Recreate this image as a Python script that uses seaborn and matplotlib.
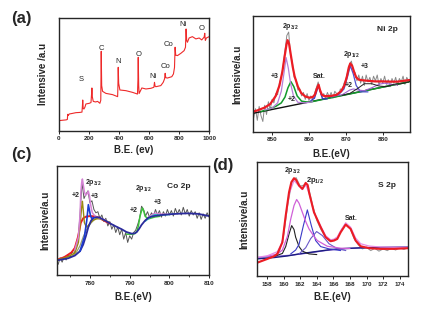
import numpy as np
import matplotlib
matplotlib.use("Agg")
import matplotlib.pyplot as plt
import seaborn as sns

sns.set_style("ticks")
plt.rcParams["font.family"] = ["Liberation Sans", "DejaVu Sans"]
plt.rcParams["font.weight"] = "bold"
plt.rcParams["mathtext.fontset"] = "custom"
plt.rcParams["mathtext.rm"] = "Liberation Sans:bold"
plt.rcParams["mathtext.bf"] = "Liberation Sans:bold"

# ---- (a) survey spectrum ----
survey_ev = [0, 20, 50, 58, 60, 64, 70, 90, 115, 140, 155, 158, 160, 163, 168, 175, 181, 204,
             215, 219, 221, 224, 230, 245, 259, 274, 280, 283, 286, 292, 314, 358, 392, 394,
             396, 399, 407, 447, 491, 524, 527, 529, 532, 535, 553, 580, 613, 633, 637, 641,
             646, 679, 695, 704, 708, 712, 723, 752, 763, 770, 774, 778, 790, 812, 834, 843,
             847, 851, 856, 867, 889, 912, 934, 951, 967, 971, 975, 982, 1000]
survey_int = [8.9, 9.2, 9.6, 10, 14.5, 13.5, 14.8, 15.3, 16, 16.2, 16.5, 22, 27.2, 20, 19.2,
              21, 23.7, 24.3, 25, 33, 37.9, 30, 26, 25.5, 26, 24.3, 27, 70.4, 40, 34.9, 33.1,
              32, 30.2, 40, 56.2, 42, 36.1, 35.5, 34, 32.5, 45, 65.1, 40, 33, 37.9, 37, 37.6,
              38.5, 42.9, 39.5, 39, 40, 42.9, 46, 50.9, 47, 46.7, 47.9, 50.3, 56, 74, 67, 66.6,
              68.6, 71, 74, 90.2, 80, 78.4, 82.2, 83.4, 81.4, 82.2, 80.5, 83, 86.4, 80, 82.2, 83.4]
survey_tags = ["S", "C", "N", "O", "Ni", "Co", "Co", "Ni", "O"]
survey_tag_ev = [153, 285, 394, 533, 626, 710, 728, 825, 949]
survey_tag_int = [45.3, 73, 61.5, 67.5, 48, 57, 76, 93.8, 90.8]

# ---- (b) Ni 2p ----
ni_raw = [12, 20, 10, 22, 14, 9, 23, 15, 26, 19, 28, 25, 33, 32, 42, 47, 57, 70, 83, 86,
          66, 60, 47, 45, 36, 37, 31, 34, 28, 33, 27, 31, 28, 33, 38, 43, 35, 30, 33, 29,
          34, 30, 34, 29, 35, 33, 31, 37, 36, 42, 45, 52, 58, 61, 53, 51, 44, 49, 42, 48,
          40, 49, 43, 47, 41, 48, 44, 49, 40, 46, 42, 48, 41, 45, 39, 46, 42, 47, 40, 46,
          43, 48, 41, 47, 44]
ni_fit_ev = [844.8, 846, 848, 849.5, 851, 852, 852.8, 853.4, 853.9, 854.2, 854.6, 855.1, 855.6,
             856.1, 857, 857.9, 859, 860.1, 861, 861.6, 862.1, 862.6, 863, 863.5, 864.2, 866,
             867.5, 868.7, 869.6, 870.3, 870.8, 871.2, 871.7, 872.3, 872.8, 873.5, 874.5, 876,
             878, 880, 882, 884, 887.3]
ni_fit = [17.5, 18.5, 21, 24, 31, 40, 52, 65, 75, 79, 76, 66, 56, 48, 39, 33.5, 30.5, 29.5,
          30, 32, 37, 40.7, 36, 32, 30.8, 31, 32, 35, 40, 48, 55.6, 59, 57, 51, 47, 45, 44.5,
          44, 43.5, 43.5, 43.3, 43.3, 44.7]
ni_base_ev = [844.8, 887.3]
ni_base = [16, 43.3]
ni3_ev = [848, 850, 851.5, 852.5, 853.2, 853.8, 854.4, 855, 855.8, 857, 859, 861]
ni3 = [19, 20.5, 25, 35, 50, 64, 55, 42, 31, 25.5, 25, 26]
ni2_ev = [847, 849, 851, 852.5, 853.5, 854.3, 855.1, 855.9, 856.8, 858, 860, 863, 870, 880, 887]
ni2 = [17.5, 19.5, 22, 25, 30, 38, 43.3, 39, 31, 26.5, 25.5, 27.5, 32, 38.6, 43]
ni_sat_ev = [860.5, 861.5, 862.1, 862.6, 863.1, 863.7, 865]
ni_sat = [27, 29, 35, 39.8, 34, 28.5, 28.5]
ni_p12_ev = [866, 868, 869.5, 870.4, 871.2, 872, 872.8, 874, 876]
ni_p12 = [30, 32, 37, 47, 57, 50, 40, 34.5, 34.5]
ni_p12b_ev = [866, 869, 871, 872, 873.5, 875, 877, 879, 880.5, 882, 884]
ni_p12b = [30.5, 32, 36, 37, 36, 35.5, 38, 41, 42, 41, 40.5]
ni_hump_ev = [869, 871, 873, 875, 877, 879, 881, 883, 885, 887]
ni_hump = [31.5, 33, 37, 41.5, 41.5, 39.5, 39, 41, 41.5, 43]

# ---- (c) Co 2p ----
co_raw = [10, 16, 12, 17, 14, 19, 16, 22, 19, 26, 33, 55, 85, 70, 74, 77, 66, 68, 60, 57,
          58, 52, 55, 49, 52, 45, 49, 42, 46, 39, 44, 37, 42, 33, 39, 30, 36, 33, 39, 41,
          46, 52, 63, 60, 54, 58, 53, 57, 54, 60, 55, 59, 53, 58, 54, 60, 55, 59, 54, 61,
          56, 60, 55, 62, 56, 60, 54, 59, 55, 58, 52, 57, 51, 56, 52, 57, 53]
co_navy_ev = [771.8, 774.5, 776.2, 777.5, 778.3, 779, 779.6, 780.3, 781, 781.7, 782.5, 783.8,
              785, 786.3, 788, 789.2, 790.5, 791.3, 791.8, 792.4, 793, 793.9, 794.7, 795.5,
              796.4, 798.1, 800.6, 803.1, 804.8, 807.3, 810]
co_navy = [13.7, 15.5, 18, 22, 28, 36, 44, 50, 52.5, 53, 52.5, 50, 47.5, 45, 42, 39.5, 38,
           38.3, 39.5, 42.5, 46, 50, 52.5, 53.5, 54.2, 55, 55.8, 56.3, 56.5, 56, 54]
co_blue_ev = [777.5, 778.6, 779.2, 779.6, 780.1, 780.4, 781]
co_blue = [22, 35, 50, 64.4, 55, 52, 52.5]
co_red_ev = [771.8, 773.5, 774.5, 775.4, 776.2, 777, 777.7, 778.3, 779, 780, 781, 782, 783,
             784, 785]
co_red = [14.3, 16.5, 18.8, 21, 25, 35, 48, 52, 53.5, 54, 53.8, 53, 51, 49, 47.3]
co_olive_ev = [771.8, 774.5, 776.2, 777.1, 777.5, 777.9, 778.1, 778.3, 778.6, 779.1, 779.6,
               780.4, 781, 781.7, 782.5, 783.8]
co_olive = [14, 17, 20.4, 30, 45, 62, 67.5, 60, 48, 44, 45.5, 49, 50.5, 51.5, 51.5, 50]
co_khaki_ev = [775.4, 776.6, 777.5, 778.3, 779.2, 780.1, 781, 781.7, 782.5, 783.8, 785]
co_khaki = [17, 21, 27, 35, 42, 47, 50.5, 52, 52, 50.5, 48]
co_pink_ev = [776.2, 777.1, 777.5, 777.7, 777.9, 778.1, 778.3, 778.6, 778.9, 779.1, 779.4,
              779.6, 779.9, 780.1, 780.4, 780.6, 781.3, 782.5, 783.8]
co_pink = [23.4, 35, 55, 75, 84, 87.8, 83, 76, 73, 73.6, 75, 76.6, 72, 66, 60, 57, 53.8, 52,
           50.5]
co_pink2_ev = [794.7, 795.5, 796.4, 797.6, 799.7]
co_pink2 = [53, 55, 56.8, 56, 55.5]
co_green_ev = [789.2, 790.5, 791.3, 791.8, 792.2, 792.6, 793.2, 793.5, 793.9, 794.7, 795.5,
               796.4, 797.6]
co_green = [37.5, 37.5, 38, 40, 45, 53.8, 61.4, 59, 53.8, 51.4, 52.3, 53.2, 53.8]
co_cyan_ev = [793.9, 794.7, 795.5, 796.4, 797.6, 799.7, 801]
co_cyan = [49.2, 51.5, 53.8, 55.3, 54.8, 55.3, 55.8]

# ---- (d) S 2p ----
s_raw = [12.5, 14, 15.5, 16.5, 18.5, 22, 36, 63, 83, 86.5, 79, 80, 78, 62, 49, 41, 35, 31,
         31.5, 34, 41, 46.5, 42.5, 33, 27.5, 24, 25.5, 22.5, 24.5, 22, 24, 22.5, 24.8, 23, 25,
         23.5, 25]
s_red_ev = [156.75, 158.04, 158.84, 159.24, 159.85, 160.25, 160.65, 160.93, 161.25, 161.5,
            161.86, 162.26, 162.66, 162.9, 163.06, 163.66, 164.47, 165.07, 165.67, 166.07,
            166.47, 166.88, 167.48, 168.08, 168.68, 169.29, 170.29, 171.69, 173.3, 175]
s_red = [11.7, 15.2, 17.5, 19.6, 29.8, 53.2, 73.7, 82.5, 86, 84.5, 79.5, 76.6, 81.9, 80, 73.7,
         56.1, 43, 34.2, 30.7, 31.3, 32.7, 38.6, 45.3, 41.5, 31.3, 26.3, 24.6, 24, 24, 24.6]
s_pink_ev = [156.75, 158.04, 159.24, 159.85, 160.25, 160.65, 161.25, 161.86, 162.26, 162.66,
             163.06, 163.66, 164.47, 165.07, 165.67, 166.07, 166.47, 166.88, 167.48, 168.08,
             168.68, 169.29, 170.29, 171.69, 173.3, 175]
s_pink = [16.4, 18, 21.5, 30, 52, 72, 84, 79, 76, 80.5, 73, 56, 44, 35.5, 32, 32.5, 34.5, 40,
          46.8, 43, 33.5, 28.5, 26.5, 25.6, 25.4, 25.4]
s_mag_ev = [158, 159.24, 159.85, 160.45, 160.85, 161.25, 161.57, 161.86, 162.26, 162.66,
            163.06, 163.66, 164.06, 165.27, 166.88, 168]
s_mag = [17.5, 19.5, 23, 35, 50, 62, 67.3, 64, 56, 48, 41.5, 35, 31.3, 26.3, 24.6, 24.3]
s_blk_ev = [158.84, 159.85, 160.25, 160.65, 160.97, 161.25, 161.45, 161.86, 162.26, 163.06, 164]
s_blk = [17.3, 20, 26, 37, 44.4, 41, 34.2, 26, 22, 19.6, 19]
s_blue_ev = [160.85, 161.45, 161.86, 162.38, 162.86, 163.34, 163.86, 164.47, 165.47, 166.88]
s_blue = [19.6, 23, 28, 44.4, 58.2, 44.4, 31.3, 26, 24, 22.5]
s_slate_ev = [161.86, 162.66, 163.26, 163.98, 164.67, 165.47, 166.47, 167.5]
s_slate = [19.6, 25, 33, 39.2, 35.7, 28.5, 24.2, 22.5]
s_navy_ev = [156.75, 158.84, 160.45, 161.86, 163.86, 165.67, 167.5, 169.29, 172, 175]
s_navy = [15.2, 16.4, 17.8, 19.6, 21.6, 23.4, 24.4, 24.9, 25.2, 25.4]
s_purp_ev = [156.75, 159, 161, 163, 165, 167, 170, 175]
s_purp = [16.4, 17.5, 18.5, 20.4, 22.5, 24, 25.2, 25.6]


def line(ax, x, y, color, lw=0.8):
    sns.lineplot(x=x, y=y, ax=ax, color=color, linewidth=lw, estimator=None, sort=False)


def style(ax, xlim, ticks, xlabel, xlab_y, ylab_x, minor=None):
    ax.set_xlim(*xlim)
    ax.set_ylim(0, 100)
    ax.set_xticks(ticks)
    if minor is not None:
        ax.set_xticks(minor, minor=True)
    ax.set_yticks([])
    ax.tick_params(axis="x", which="major", direction="out", length=2.5, width=0.7,
                   labelsize=4.5, pad=1.5)
    ax.tick_params(axis="x", which="minor", direction="out", length=1.5, width=0.6)
    for s in ax.spines.values():
        s.set_visible(True)
        s.set_linewidth(1.0)
    ax.set_xlabel(xlabel, fontsize=7, fontweight="bold")
    ax.xaxis.set_label_coords(0.5, xlab_y)
    ax.set_ylabel("Intensive/a.u", fontsize=7, fontweight="bold")
    ax.yaxis.set_label_coords(ylab_x, 0.5)


fig = plt.figure(figsize=(4.25, 3.09), dpi=100)
ax_a = fig.add_axes([0.138, 0.577, 0.354, 0.365])
ax_b = fig.add_axes([0.595, 0.573, 0.369, 0.376])
ax_c = fig.add_axes([0.135, 0.109, 0.357, 0.355])
ax_d = fig.add_axes([0.604, 0.106, 0.356, 0.369])

# (a)
line(ax_a, survey_ev, survey_int, "#ee2a2a", 0.8)
for t, xv, yv in zip(survey_tags, survey_tag_ev, survey_tag_int):
    ax_a.text(xv, yv, t, fontsize=5.5, fontweight="normal", ha="center", va="center")
style(ax_a, (0, 1000), [0, 200, 400, 600, 800, 1000], "B.E. (ev)", -0.13, -0.07)
ax_a.set_ylabel("Intensive /a.u", fontsize=7, fontweight="bold")

# (b)
nx = np.linspace(845, 887, len(ni_raw))
line(ax_b, nx, ni_raw, "#8a8a8a", 0.7)
line(ax_b, ni_base_ev, ni_base, "#111111", 1.0)
line(ax_b, ni2_ev, ni2, "#129a2c", 1.1)
line(ax_b, ni3_ev, ni3, "#b67fd8", 0.9)
line(ax_b, ni_sat_ev, ni_sat, "#3434c8", 0.9)
line(ax_b, ni_p12_ev, ni_p12, "#5050d0", 0.9)
line(ax_b, ni_p12b_ev, ni_p12b, "#a060d0", 0.8)
line(ax_b, ni_hump_ev, ni_hump, "#222222", 0.7)
line(ax_b, ni_fit_ev, ni_fit, "#ec1c24", 1.6)
b_tags = ["2p$_{3/2}$", "+3", "+2", "Sat.", "2p$_{1/2}$", "+2", "+3"]
b_tag_ev = [855.1, 850.6, 855.3, 862.8, 871.4, 870.8, 875.1]
b_tag_int = [90.5, 47.6, 27.5, 47.6, 66.5, 40.4, 56.2]
for t, xv, yv in zip(b_tags, b_tag_ev, b_tag_int):
    ax_b.text(xv, yv, t, fontsize=5, fontweight="bold", ha="center", va="center")
ax_b.text(881.3, 88, "Ni 2p", fontsize=6, fontweight="bold", ha="center", va="center")
style(ax_b, (844.8, 887.3), [850, 860, 870, 880], "B.E.(eV)", -0.145, -0.065)

# (c)
cx = np.linspace(772, 810, len(co_raw))
line(ax_c, cx, co_raw, "#555555", 0.7)
line(ax_c, co_khaki_ev, co_khaki, "#9aa070", 0.9)
line(ax_c, co_red_ev, co_red, "#ec1c24", 1.4)
line(ax_c, co_olive_ev, co_olive, "#9a8a10", 1.0)
line(ax_c, co_pink_ev, co_pink, "#d483d4", 1.1)
line(ax_c, co_pink2_ev, co_pink2, "#d483d4", 1.0)
line(ax_c, co_green_ev, co_green, "#3cc03c", 1.1)
line(ax_c, co_cyan_ev, co_cyan, "#30c0c8", 1.0)
line(ax_c, co_navy_ev, co_navy, "#2b2b9c", 1.3)
line(ax_c, co_blue_ev, co_blue, "#1c3cd0", 1.2)
c_tags = ["+2", "2p$_{3/2}$", "+3", "2p$_{1/2}$", "+2", "+3"]
c_tag_ev = [776.4, 780.8, 781.3, 793.4, 791.1, 797.0]
c_tag_int = [73, 85, 72, 78.7, 59.3, 66]
for t, xv, yv in zip(c_tags, c_tag_ev, c_tag_int):
    ax_c.text(xv, yv, t, fontsize=5, fontweight="bold", ha="center", va="center")
ax_c.text(802.3, 81, "Co 2p", fontsize=6, fontweight="bold", ha="center", va="center")
style(ax_c, (771.8, 810), [780, 790, 800, 810], "B.E.(eV)", -0.15, -0.045,
      minor=[775, 785, 795, 805])

# (d)
sx = np.linspace(157, 175, len(s_raw))
line(ax_d, sx, s_raw, "#9a9a9a", 0.8)
line(ax_d, s_purp_ev, s_purp, "#7a5ad0", 0.9)
line(ax_d, s_navy_ev, s_navy, "#1c1c80", 1.0)
line(ax_d, s_blk_ev, s_blk, "#222222", 0.8)
line(ax_d, s_blue_ev, s_blue, "#3a3ac8", 0.8)
line(ax_d, s_slate_ev, s_slate, "#6a58c8", 0.8)
line(ax_d, s_mag_ev, s_mag, "#d060d8", 0.9)
line(ax_d, s_pink_ev, s_pink, "#e58ae5", 0.9)
line(ax_d, s_red_ev, s_red, "#ec1c24", 1.5)
ax_d.text(161.1, 92.7, "2p$_{3/2}$", fontsize=5, fontweight="bold", ha="center", va="center")
ax_d.text(163.8, 84, "2p$_{1/2}$", fontsize=5.5, fontweight="bold", ha="center", va="center")
ax_d.text(168.1, 50.3, "Sat.", fontsize=5, fontweight="bold", ha="center", va="center")
ax_d.text(172.5, 80, "S 2p", fontsize=6, fontweight="bold", ha="center", va="center")
style(ax_d, (156.75, 175), list(range(158, 175, 2)), "B.E.(eV)", -0.135, -0.05)

# panel letters
fig.text(0.05, 0.94, "(a)", fontsize=12, fontweight="bold", ha="center", va="center")
fig.text(0.05, 0.50, "(c)", fontsize=12, fontweight="bold", ha="center", va="center")
fig.text(0.525, 0.465, "(d)", fontsize=12, fontweight="bold", ha="center", va="center")

fig.savefig("out.png", dpi=100)
